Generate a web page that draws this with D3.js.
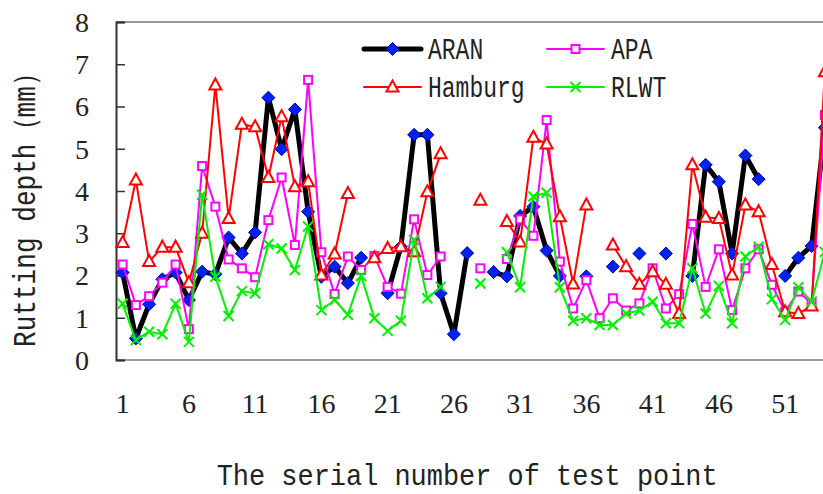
<!DOCTYPE html>
<html>
<head>
<meta charset="utf-8">
<script src="https://cdn.jsdelivr.net/npm/d3@7"></script>
<style>
html,body{margin:0;padding:0;background:#fff;}
svg{display:block;}
</style>
</head>
<body>
<svg id="chart" width="823" height="494"></svg>
<script>
const pointIds = d3.range(1, 55);
const xTickLabels = [1, 6, 11, 16, 21, 26, 31, 36, 41, 46, 51];
const yTickLabels = [0, 1, 2, 3, 4, 5, 6, 7, 8];
const seriesNames = ["ARAN", "APA", "Hamburg", "RLWT"];

const aran = [2.07,0.51,1.32,1.91,2.07,1.42,2.09,2.03,2.90,2.52,3.02,6.21,4.99,5.93,3.51,1.97,2.21,1.82,2.42,null,
  1.58,2.68,5.33,5.33,1.58,0.61,2.53,null,2.08,1.98,3.41,3.63,2.59,1.99,null,1.98,null,2.21,null,2.52,
  null,2.52,null,1.99,4.62,4.22,2.52,4.84,4.28,null,1.99,2.42,2.70,5.50];
const hamburg = [2.78,4.26,2.33,2.67,2.67,1.83,3.00,6.51,3.35,5.58,5.52,4.32,5.76,4.10,4.22,2.01,2.51,3.94,null,2.42,
  2.64,2.68,2.56,3.98,4.88,null,null,3.78,null,3.28,2.79,5.27,5.11,3.39,1.80,3.67,null,2.72,2.21,1.79,
  2.09,1.79,1.10,4.62,3.38,3.35,2.01,3.67,3.51,2.26,1.14,1.10,1.28,6.82];
const apa = [2.26,1.30,1.51,1.83,2.26,0.73,4.59,3.63,2.38,2.17,1.96,3.31,4.32,2.72,6.63,2.55,1.56,2.45,2.13,2.46,
  1.73,1.57,3.33,2.01,2.45,null,null,2.17,null,2.39,3.33,2.94,5.68,2.33,1.22,1.89,0.99,1.46,1.17,1.34,
  2.17,1.22,1.56,3.22,1.73,2.62,1.18,2.17,2.62,1.78,1.14,1.62,1.34,5.80];
const rlwt = [1.33,0.47,0.67,0.61,1.33,0.43,3.91,1.97,1.04,1.63,1.58,2.74,2.64,2.13,3.16,1.18,1.42,1.07,1.99,0.99,
  0.69,0.93,2.84,1.46,1.73,null,null,1.81,null,2.55,1.72,3.87,3.96,1.72,0.93,0.99,0.83,0.83,1.10,1.17,
  1.38,0.87,0.87,2.17,1.10,1.75,0.87,2.45,2.68,1.44,0.95,1.72,1.38,2.56];

const svg = d3.select("#chart");
const plotLeft = 116, plotTop = 22, plotBottom = 360;
const step = 13.25;
const x = d3.scaleLinear().domain([0.5, 60.5]).range([plotLeft, plotLeft + 60 * step]);
const y = d3.scaleLinear().domain([0, 8]).range([plotBottom, plotTop]);

// frame
svg.append("line").attr("x1", plotLeft).attr("x2", 823).attr("y1", plotTop).attr("y2", plotTop)
  .attr("stroke", "#999").attr("stroke-width", 2);
svg.append("line").attr("x1", plotLeft).attr("x2", 823).attr("y1", plotBottom).attr("y2", plotBottom)
  .attr("stroke", "#999").attr("stroke-width", 2);

// y axis (ticks inward)
const yAxis = d3.axisRight(y).tickValues(yTickLabels).tickSize(9).tickFormat("");
const gy = svg.append("g").attr("transform", `translate(${plotLeft},0)`).call(yAxis);
gy.select(".domain").attr("stroke", "#333").attr("stroke-width", 2);
gy.selectAll(".tick line").attr("stroke", "#333").attr("stroke-width", 1.5);

svg.append("g").selectAll("text").data(yTickLabels).join("text")
  .attr("x", 82).attr("y", d => y(d)).attr("dy", "0.35em")
  .attr("text-anchor", "middle")
  .attr("font-family", "'Liberation Serif', 'Times New Roman', serif")
  .attr("font-size", 28).attr("fill", "#222")
  .text(d => d);

svg.append("g").selectAll("text").data(xTickLabels).join("text")
  .attr("x", d => x(d)).attr("y", 413)
  .attr("text-anchor", "middle")
  .attr("font-family", "'Liberation Serif', 'Times New Roman', serif")
  .attr("font-size", 28).attr("fill", "#222")
  .text(d => d);

// axis titles
const xTitle = "The serial number of test point";
svg.append("text").attr("x", 216.7).attr("y", 485)
  .attr("font-family", "'Liberation Mono', monospace").attr("font-size", 30)
  .attr("fill", "#222")
  .attr("textLength", 501).attr("lengthAdjust", "spacingAndGlyphs")
  .text(xTitle);
svg.append("text").attr("transform", "translate(35,347) rotate(-90)")
  .attr("font-family", "'Liberation Mono', monospace").attr("font-size", 31)
  .attr("fill", "#222")
  .attr("textLength", 287).attr("lengthAdjust", "spacingAndGlyphs")
  .text("Rutting depth（mm）");

// series
function lineGen() {
  return d3.line().defined(d => d.v != null).x(d => x(d.i)).y(d => y(d.v));
}
function toPts(arr) { return pointIds.map((i, k) => ({ i, v: arr[k] })); }

const styles = {
  ARAN: { data: aran, color: "#000", width: 5 },
  APA: { data: apa, color: "#ff00ff", width: 2 },
  Hamburg: { data: hamburg, color: "#ff0000", width: 2 },
  RLWT: { data: rlwt, color: "#00ee00", width: 2 }
};

function drawMarker(g, name, cx, cy) {
  if (name === "ARAN") {
    g.append("path").attr("d", `M${cx},${cy-6.5}L${cx+6.5},${cy}L${cx},${cy+6.5}L${cx-6.5},${cy}Z`)
      .attr("fill", "#0022ee").attr("stroke", "#0000aa").attr("stroke-width", 1);
  } else if (name === "APA") {
    g.append("rect").attr("x", cx-4).attr("y", cy-4).attr("width", 8).attr("height", 8)
      .attr("fill", "#fff").attr("stroke", "#ff00ff").attr("stroke-width", 2);
  } else if (name === "Hamburg") {
    g.append("path").attr("d", `M${cx},${cy-6.5}L${cx+6},${cy+4.5}L${cx-6},${cy+4.5}Z`)
      .attr("fill", "#fff").attr("stroke", "#ff0000").attr("stroke-width", 2);
  } else {
    g.append("path").attr("d", `M${cx-5},${cy-5}L${cx+5},${cy+5}M${cx+5},${cy-5}L${cx-5},${cy+5}`)
      .attr("stroke", "#00ee00").attr("stroke-width", 2).attr("fill", "none");
  }
}

seriesNames.forEach(name => {
  const s = styles[name];
  const pts = toPts(s.data);
  const g = svg.append("g");
  g.append("path").attr("d", lineGen()(pts)).attr("fill", "none")
    .attr("stroke", s.color).attr("stroke-width", s.width)
    .attr("stroke-linejoin", "round").attr("stroke-linecap", "round");
  pts.filter(d => d.v != null).forEach(d => drawMarker(g, name, x(d.i), y(d.v)));
});

// legend
const legendItems = [
  { name: "ARAN", lx: 364, ly: 49 },
  { name: "APA", lx: 547, ly: 49 },
  { name: "Hamburg", lx: 364, ly: 87 },
  { name: "RLWT", lx: 547, ly: 87 }
];
const lg = svg.append("g");
legendItems.forEach(it => {
  const s = styles[it.name];
  lg.append("line").attr("x1", it.lx).attr("x2", it.lx + 57).attr("y1", it.ly).attr("y2", it.ly)
    .attr("stroke", s.color).attr("stroke-width", s.width).attr("stroke-linecap", "round");
  drawMarker(lg, it.name, it.lx + 28.5, it.ly);
  lg.append("text").attr("x", it.lx + 64).attr("y", it.ly + 10)
    .attr("font-family", "'Liberation Mono', monospace").attr("font-size", 30)
    .attr("fill", "#222")
    .attr("textLength", it.name.length * 13.8).attr("lengthAdjust", "spacingAndGlyphs")
    .text(it.name);
});
</script>
</body>
</html>
